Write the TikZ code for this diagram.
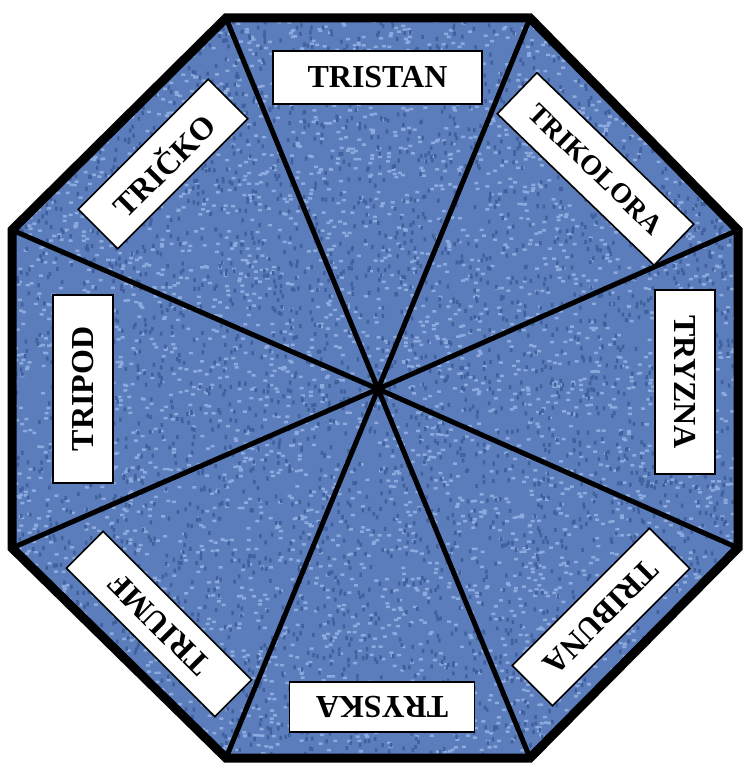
\documentclass[tikz,border=0pt]{standalone}
\usepackage{fontspec}
\setmainfont{Liberation Serif}
\definecolor{clothbase}{HTML}{5B7DBB}
\definecolor{clothlight}{HTML}{8CAADE}
\definecolor{clothdark}{HTML}{40609E}
\tikzset{
  label box/.style={draw=black, line width=1.6pt, fill=white, inner sep=0pt,
    font=\fontsize{32}{34}\selectfont\bfseries, text=black},
  spoke/.style={line width=5pt, black},
  rim/.style={line width=9pt, black, line join=miter},
}
\begin{document}
\begin{tikzpicture}[x=1pt,y=-1pt]
\useasboundingbox (0,0) rectangle (744,765);
\coordinate (v1) at (226,18);
\coordinate (v2) at (530,18);
\coordinate (v3) at (738,230);
\coordinate (v4) at (738,548);
\coordinate (v5) at (530,758);
\coordinate (v6) at (226,758);
\coordinate (v7) at (12,548);
\coordinate (v8) at (12,230);
\coordinate (c) at (378,389);
\begin{scope}
\clip (v1)--(v2)--(v3)--(v4)--(v5)--(v6)--(v7)--(v8)--cycle;
\fill[clothbase] (0,0) rectangle (744,765);
\pgfmathsetseed{7}
\fill[clothlight] \foreach \i in {1,...,4500}{ (rnd*744,rnd*765) rectangle ++(4,2.5) };
\fill[clothdark] \foreach \i in {1,...,4000}{ (rnd*744,rnd*765) rectangle ++(2.5,4) };
\end{scope}
\foreach \v in {v1,v2,v3,v4,v5,v6,v7,v8}{
  \draw[spoke] (c) -- (\v);
}
\draw[rim] (v1)--(v2)--(v3)--(v4)--(v5)--(v6)--(v7)--(v8)--cycle;
\node[label box, minimum width=209pt, minimum height=53pt] (tristan) at (377.5,77.5) {TRISTAN};
\node[label box, minimum width=218pt, minimum height=57pt, rotate=-44,
  font=\fontsize{28}{30}\selectfont\bfseries] (trikolora) at (595.5,169) {TRIKOLORA};
\node[label box, minimum width=184pt, minimum height=60pt, rotate=-90] (tryzna) at (685,382) {TRYZNA};
\node[label box, minimum width=194pt, minimum height=57pt, rotate=-135] (tribuna) at (601,617) {TRIBUNA};
\node[label box, minimum width=185pt, minimum height=50pt, rotate=180] (tryska) at (382,707) {TRYSKA};
\node[label box, minimum width=210pt, minimum height=52pt, rotate=135] (triumf) at (159,624) {TRIUMF};
\node[label box, minimum width=188pt, minimum height=60pt, rotate=90] (tripod) at (83,389) {TRIPOD};
\node[label box, minimum width=184pt, minimum height=56pt, rotate=45] (tricko) at (163,164) {TRIČKO};
\end{tikzpicture}
\end{document}
